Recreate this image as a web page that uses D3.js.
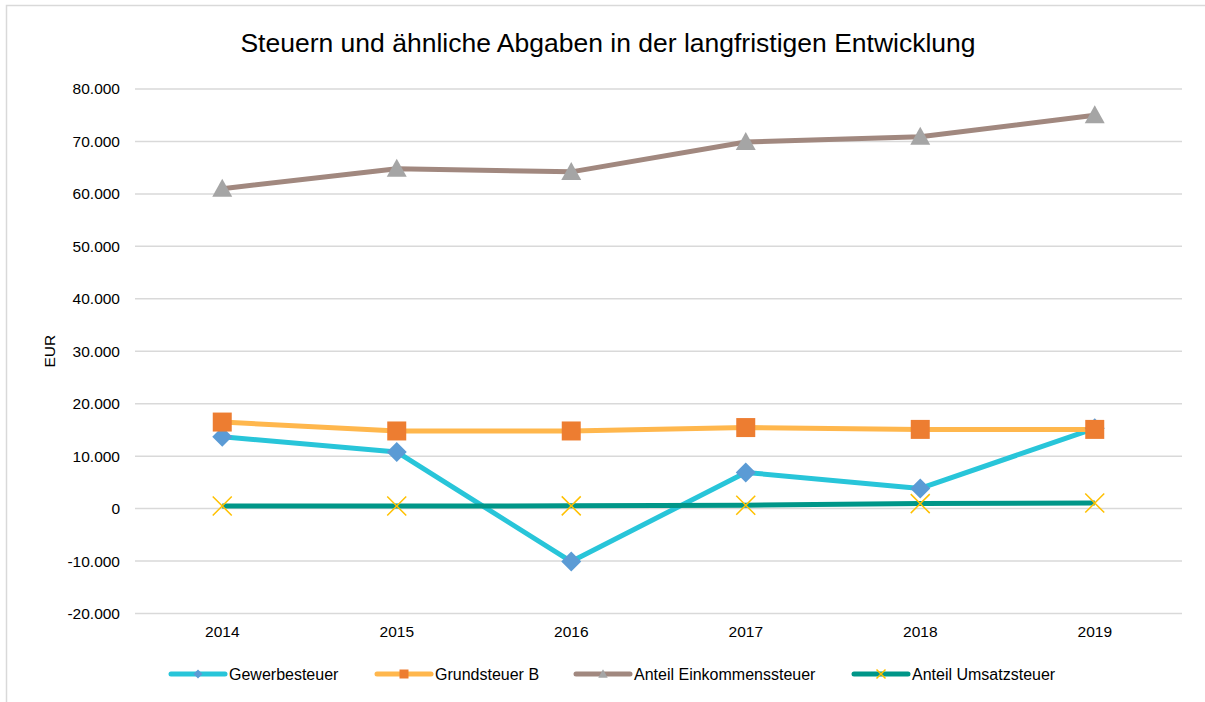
<!DOCTYPE html>
<html>
<head>
<meta charset="utf-8">
<script src="https://cdn.jsdelivr.net/npm/d3@7"></script>
<style>
  body { margin: 0; background: #fff; }
  text { font-family: "Liberation Sans", Arial, sans-serif; fill: #000; }
</style>
</head>
<body>
<div id="chart"></div>
<script>
// data
var years = ["2014", "2015", "2016", "2017", "2018", "2019"];
var gewerbesteuer = [13700, 10800, -10100, 6900, 3850, 15300];
var grundsteuerB = [16500, 14800, 14800, 15450, 15100, 15100];
var anteilEinkommen = [61000, 64800, 64200, 69900, 70900, 75000];
var anteilUmsatz = [500, 500, 520, 650, 950, 1050];
var yTicks = [-20000, -10000, 0, 10000, 20000, 30000, 40000, 50000, 60000, 70000, 80000];

var series = [
  { name: "Gewerbesteuer", values: gewerbesteuer, line: "#28C5D9", marker: "#5B9BD5", shape: "diamond" },
  { name: "Grundsteuer B", values: grundsteuerB, line: "#FFB74D", marker: "#ED7D31", shape: "square" },
  { name: "Anteil Einkommenssteuer", values: anteilEinkommen, line: "#A1887F", marker: "#A5A5A5", shape: "triangle" },
  { name: "Anteil Umsatzsteuer", values: anteilUmsatz, line: "#009688", marker: "#FFC000", shape: "cross" }
];

var svgWidth = 1205, svgHeight = 702;
var margin = { top: 89, right: 23, bottom: 89, left: 135 };
var width = svgWidth - margin.left - margin.right;
var height = 613.5 - margin.top;

var svg = d3.select("#chart").append("svg")
  .attr("width", svgWidth)
  .attr("height", svgHeight);

// outer frame
svg.append("rect")
  .attr("x", 6.5).attr("y", 5.5)
  .attr("width", 1210).attr("height", 710)
  .attr("fill", "none")
  .attr("stroke", "#d9d9d9")
  .attr("stroke-width", 1.5);

svg.append("text")
  .attr("x", 608).attr("y", 52)
  .attr("text-anchor", "middle")
  .attr("font-size", "26.5px")
  .text("Steuern und ähnliche Abgaben in der langfristigen Entwicklung");

var g = svg.append("g").attr("transform", `translate(${margin.left},${margin.top})`);

var x = d3.scaleBand().domain(years).range([0, width]);
var y = d3.scaleLinear().domain([-20000, 80000]).range([height, 0]);

var fmt = function(d) {
  return d3.format(",")(d).replace(/,/g, ".").replace("\u2212", "-");
};

// grid
g.selectAll(".grid")
  .data(yTicks)
  .enter().append("line")
  .attr("x1", 0).attr("x2", width)
  .attr("y1", d => y(d)).attr("y2", d => y(d))
  .attr("stroke", "#d9d9d9")
  .attr("stroke-width", 1.5);

// y axis labels
var yAxis = g.append("g")
  .call(d3.axisLeft(y).tickValues(yTicks).tickFormat(fmt).tickSize(0).tickPadding(15));
yAxis.select(".domain").remove();
yAxis.selectAll("text").attr("font-size", "15.5px").attr("font-family", "Liberation Sans, Arial, sans-serif");

// x axis labels
var xAxis = g.append("g")
  .attr("transform", `translate(0,${height})`)
  .call(d3.axisBottom(x).tickSize(0).tickPadding(12));
xAxis.select(".domain").remove();
xAxis.selectAll("text").attr("font-size", "15.5px").attr("font-family", "Liberation Sans, Arial, sans-serif");

g.append("text")
  .attr("transform", "rotate(-90)")
  .attr("x", -(y(30000)))
  .attr("y", -80)
  .attr("text-anchor", "middle")
  .attr("font-size", "15.5px")
  .text("EUR");

var cx = d => x(d) + x.bandwidth() / 2;

function markerPath(shape, s) {
  if (shape === "diamond") return `M0,${-s}L${s},0L0,${s}L${-s},0Z`;
  if (shape === "square") return `M${-s},${-s}H${s}V${s}H${-s}Z`;
  if (shape === "triangle") return `M0,${-s * 1.05}L${s * 1.05},${s * 0.85}L${-s * 1.05},${s * 0.85}Z`;
  return `M${-s},${-s}L${s},${s}M${s},${-s}L${-s},${s}`;
}

var line = d3.line().x(d => cx(d.year)).y(d => y(d.value));

series.forEach(function(s) {
  var pts = years.map((yr, i) => ({ year: yr, value: s.values[i] }));
  g.append("path")
    .datum(pts)
    .attr("fill", "none")
    .attr("stroke", s.line)
    .attr("stroke-width", 5)
    .attr("stroke-linejoin", "round")
    .attr("d", line);
});

series.forEach(function(s) {
  var pts = years.map((yr, i) => ({ year: yr, value: s.values[i] }));
  var size = s.shape === "diamond" ? 10 : 9.5;
  g.selectAll(null)
    .data(pts)
    .enter().append("path")
    .attr("transform", d => `translate(${cx(d.year)},${y(d.value)})`)
    .attr("d", markerPath(s.shape, size))
    .attr("fill", s.shape === "cross" ? "none" : s.marker)
    .attr("stroke", s.shape === "cross" ? s.marker : "none")
    .attr("stroke-width", 1.5);
});

// legend
var legendX = [171, 377, 576, 854];
var legend = svg.selectAll(".legend")
  .data(series)
  .enter().append("g")
  .attr("transform", (d, i) => `translate(${legendX[i]},674)`);

legend.append("line")
  .attr("x1", 0).attr("x2", 54)
  .attr("stroke", d => d.line)
  .attr("stroke-width", 5)
  .attr("stroke-linecap", "round");

legend.append("path")
  .attr("transform", "translate(27,0)")
  .attr("d", d => markerPath(d.shape, 4.5))
  .attr("fill", d => d.shape === "cross" ? "none" : d.marker)
  .attr("stroke", d => d.shape === "cross" ? d.marker : "none")
  .attr("stroke-width", 1.5);

legend.append("text")
  .attr("x", 58)
  .attr("y", 6)
  .attr("font-size", "16px")
  .text(d => d.name);
</script>
</body>
</html>
